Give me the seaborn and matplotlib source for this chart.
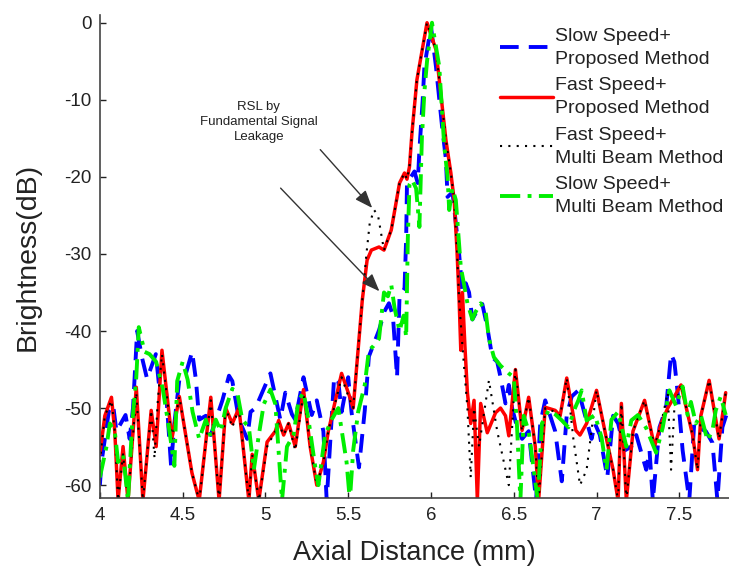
import numpy as np
import pandas as pd
import matplotlib
matplotlib.use("Agg")
import matplotlib.pyplot as plt
import seaborn as sns

# ---------------- data ----------------
series_names = ["Slow Speed+\nProposed Method", "Fast Speed+\nProposed Method",
                "Fast Speed+\nMulti Beam Method", "Slow Speed+\nMulti Beam Method"]

blue_x = [4.00, 4.01, 4.055, 4.08, 4.10, 4.155, 4.18, 4.20, 4.225, 4.255, 4.285, 4.338, 4.36, 4.40, 4.43,
          4.45, 4.48, 4.52, 4.557, 4.58, 4.60, 4.64, 4.67, 4.74, 4.78, 4.80, 4.84, 4.89, 4.91, 4.94, 4.96,
          5.03, 5.09, 5.12, 5.16, 5.18, 5.23, 5.28, 5.31, 5.35, 5.37, 5.415, 5.44, 5.46, 5.50, 5.52, 5.565,
          5.60, 5.625, 5.686, 5.72, 5.746, 5.77, 5.795, 5.81, 5.84, 5.85, 5.855, 5.90, 5.92, 5.93, 5.95,
          5.96, 6.00, 6.03, 6.067, 6.09, 6.10, 6.13, 6.17, 6.19, 6.21, 6.23, 6.25, 6.29, 6.31, 6.34, 6.37,
          6.40, 6.42, 6.45, 6.47, 6.49, 6.52, 6.55, 6.59, 6.635, 6.66, 6.69, 6.75, 6.79, 6.82, 6.85, 6.89,
          6.93, 6.97, 6.99, 7.02, 7.065, 7.10, 7.13, 7.17, 7.21, 7.24, 7.30, 7.32, 7.34, 7.38, 7.42, 7.45,
          7.47, 7.49, 7.52, 7.56, 7.59, 7.62, 7.66, 7.70, 7.73, 7.76, 7.79]
blue_y = [-60, -57, -50.3, -49.6, -53, -50.9, -54, -50, -40, -43.5, -46.2, -43, -47.6, -48, -57.5,
          -52, -46.3, -45.5, -42.7, -46.3, -51.5, -51, -53.5, -49, -45.8, -46.5, -51.5, -54, -50.5, -50, -49,
          -45.5, -51.5, -48, -50.8, -51.5, -46, -50.9, -49, -53, -62, -46, -46.5, -50.5, -46, -50.5, -57.7,
          -50.3, -43.3, -39.9, -37.4, -36.4, -38, -46, -35.5, -34.5, -28, -20.8, -19.3, -20.8, -16.5, -10,
          -5.7, -0.5, -5.7, -13.5, -17.7, -22.6, -22, -30, -35, -33.8, -35, -38.5, -36.9, -36.5, -39.5, -43.4,
          -44, -46, -49.4, -47, -50, -52.5, -54, -53, -62, -52, -49, -53, -59.5, -50.9, -48.5, -47.7,
          -50.9, -54, -52, -53.5, -59, -51, -52, -55.5, -55, -53.5, -58, -55.5, -62, -52.5, -50, -43,
          -44, -48, -55.5, -62, -52, -52.6, -53, -54.5, -62, -52.5, -50.5]

red_x = [4.00, 4.03, 4.07, 4.09, 4.11, 4.14, 4.17, 4.22, 4.26, 4.31, 4.34, 4.375, 4.435, 4.48, 4.556,
         4.60, 4.67, 4.72, 4.76, 4.80, 4.84, 4.90, 4.92, 4.96, 5.01, 5.06, 5.08, 5.11, 5.14, 5.18, 5.23,
         5.27, 5.31, 5.35, 5.38, 5.46, 5.51, 5.53, 5.585, 5.614, 5.64, 5.686, 5.716, 5.76, 5.81, 5.84,
         5.855, 5.87, 5.885, 5.915, 5.976, 6.03, 6.09, 6.12, 6.14, 6.157, 6.17, 6.18, 6.19, 6.205, 6.22,
         6.24, 6.26, 6.28, 6.30, 6.34, 6.39, 6.42, 6.45, 6.47, 6.51, 6.55, 6.59, 6.63, 6.65, 6.69, 6.75,
         6.78, 6.82, 6.875, 6.90, 6.94, 7.00, 7.06, 7.10, 7.13, 7.15, 7.18, 7.22, 7.29, 7.35, 7.39, 7.43,
         7.51, 7.58, 7.61, 7.63, 7.68, 7.74, 7.78]
red_y = [-56, -51, -48.6, -53, -62, -55, -62, -47.3, -62, -50.3, -55, -42.5, -54, -48.5, -58.4,
         -62, -48.6, -62, -50, -52, -50, -62, -56, -62, -54.4, -53, -51.6, -53.5, -52, -55, -47.6,
         -55, -60, -57, -53, -45.5, -48.6, -50, -36, -30.8, -29.5, -29.1, -29.5, -26.9, -20.8, -19.5,
         -20.3, -18.7, -14.3, -7.4, 0, -3.5, -15.2, -19.5, -23, -29.5, -36, -42.5, -35, -42, -48,
         -52, -49, -62, -49.4, -53.2, -50.6, -50, -51, -53.6, -45, -52.9, -48.6, -55, -62, -49.9, -50.3,
         -51, -46.1, -52.9, -53.5, -52, -47.7, -54, -58, -62, -49.4, -62, -53, -49, -55, -52, -50,
         -47, -53.5, -58, -51, -46.4, -54, -48]

black_x = [4.00, 4.03, 4.07, 4.09, 4.11, 4.14, 4.17, 4.22, 4.26, 4.31, 4.33, 4.35, 4.375, 4.435, 4.48,
           4.556, 4.60, 4.67, 4.72, 4.76, 4.80, 4.84, 4.90, 4.92, 4.96, 5.01, 5.06, 5.08, 5.11, 5.14, 5.18,
           5.23, 5.27, 5.31, 5.35, 5.38, 5.46, 5.51, 5.53, 5.585, 5.61, 5.63, 5.656, 5.68, 5.70, 5.716,
           5.76, 5.81, 5.84, 5.855, 5.87, 5.885, 5.915, 5.976, 6.03, 6.09, 6.12, 6.14, 6.157, 6.17, 6.19,
           6.22, 6.24, 6.26, 6.29, 6.35, 6.40, 6.44, 6.47, 6.51, 6.55, 6.59, 6.63, 6.65, 6.69, 6.75, 6.78,
           6.82, 6.86, 6.90, 6.94, 7.00, 7.06, 7.10, 7.13, 7.15, 7.18, 7.22, 7.29, 7.35, 7.39, 7.43, 7.45,
           7.47, 7.51, 7.58, 7.61, 7.63, 7.68, 7.74, 7.78]
black_y = [-57, -51, -49, -53, -62, -56, -62, -48, -62, -50.3, -56.5, -49, -43, -54, -48.5,
           -58.4, -62, -49, -62, -50, -52.5, -50, -62, -56, -62, -55, -53, -52, -53.5, -52, -55.5,
           -48, -55, -60, -57, -53, -46, -49, -50, -36, -30, -26, -24.3, -25, -27.5, -29.5,
           -26.9, -20.8, -19.5, -20.3, -18.7, -14.3, -7.4, 0, -3.5, -15.2, -19.5, -23, -29.5, -36, -42,
           -50, -59, -50, -55, -46.4, -53, -57, -60, -45, -53, -48.6, -55, -62, -50, -50.5, -51,
           -46.1, -54, -60, -58, -47.7, -54, -58, -62, -49.4, -62, -53, -49, -55, -52, -48, -58,
           -50, -47, -53.5, -58, -51, -46.4, -54, -48]

green_x = [4.00, 4.04, 4.06, 4.09, 4.11, 4.14, 4.17, 4.195, 4.22, 4.235, 4.27, 4.30, 4.34, 4.38, 4.42,
           4.45, 4.467, 4.50, 4.53, 4.56, 4.60, 4.64, 4.67, 4.70, 4.73, 4.76, 4.80, 4.83, 4.86, 4.90, 4.93,
           4.96, 4.99, 5.03, 5.06, 5.10, 5.13, 5.17, 5.20, 5.23, 5.26, 5.30, 5.32, 5.36, 5.40, 5.44, 5.49,
           5.51, 5.53, 5.56, 5.60, 5.625, 5.65, 5.686, 5.716, 5.74, 5.76, 5.78, 5.81, 5.835, 5.85, 5.86,
           5.87, 5.886, 5.91, 5.93, 5.945, 5.96, 5.976, 6.006, 6.05, 6.08, 6.10, 6.11, 6.13, 6.15, 6.18,
           6.20, 6.22, 6.25, 6.27, 6.30, 6.33, 6.35, 6.38, 6.42, 6.47, 6.50, 6.52, 6.54, 6.56, 6.59, 6.645,
           6.67, 6.71, 6.75, 6.79, 6.83, 6.87, 6.89, 6.91, 6.94, 6.99, 7.03, 7.06, 7.09, 7.13, 7.18, 7.21,
           7.25, 7.30, 7.33, 7.36, 7.40, 7.44, 7.48, 7.52, 7.55, 7.57, 7.60, 7.63, 7.67, 7.70, 7.72, 7.75,
           7.78]
green_y = [-59, -55, -52, -53, -57, -56, -62, -52, -46, -39.5, -42.7, -43, -44, -47.5, -53,
           -57.5, -46.5, -44, -46.3, -50.5, -54, -51.5, -53.8, -51.5, -53, -50, -47.5, -48, -51.5, -52.5, -58,
           -53.5, -49.5, -47.6, -49.5, -62, -55, -53.5, -49, -48, -51.5, -57.5, -60, -53.5, -51.5, -50, -57,
           -62, -55.5, -50.5, -47, -42.5, -42, -41, -35, -35.5, -34, -37, -40, -38, -40.8, -28,
           -21, -20.4, -21.5, -26.5, -15, -9, -5, 0, -5.7, -16, -20, -24.3, -21.5, -23, -31.7,
           -34, -36.4, -38.5, -37.5, -36.4, -37.5, -41, -43.4, -44.5, -45.5, -46, -52.5, -62, -51, -53, -62,
           -52, -50.3, -50.8, -51.6, -52.5, -50, -49, -47.7, -51.6, -50.9, -53.8, -58, -51.5, -50.5, -55, -51.6,
           -50.9, -52.6, -54.2, -55.8, -52.5, -47.7, -49.7, -47.2, -50.9, -49.2, -52, -50.9, -54.2, -52.9, -50.3, -48.5,
           -50.9]

x_ticks = [4, 4.5, 5, 5.5, 6, 6.5, 7, 7.5]
x_tick_labels = ["4", "4.5", "5", "5.5", "6", "6.5", "7", "7.5"]
y_ticks = [0, -10, -20, -30, -40, -50, -60]
y_tick_labels = ["0", "-10", "-20", "-30", "-40", "-50", "-60"]

# ---------------- style ----------------
sns.set_theme(style="white")
plt.rcParams["font.family"] = ["Liberation Sans", "DejaVu Sans"]

fig = plt.figure(figsize=(7.29, 5.78), dpi=100)
ax = fig.add_axes([0.137, 0.138, 0.863, 0.836])

styles = [
    dict(x=blue_x, y=blue_y, color="#0000FF", lw=2.8, ls=(0, (4.8, 2.6))),
    dict(x=red_x, y=red_y, color="#FF0000", lw=2.5, ls="-"),
    dict(x=black_x, y=black_y, color="#000000", lw=1.5, ls=(0, (1, 3))),
    dict(x=green_x, y=green_y, color="#00EE00", lw=2.8, ls=(0, (5.2, 1.9, 1, 1.9))),
]
handles = []
for name, s in zip(series_names, styles):
    df = pd.DataFrame({"x": s["x"], "y": s["y"]})
    sns.lineplot(data=df, x="x", y="y", ax=ax, color=s["color"], linewidth=s["lw"],
                 linestyle=s["ls"], estimator=None, sort=False, legend=False)
    handles.append(ax.lines[-1])

ax.set_xlim(4, 7.8)
ax.set_ylim(-61.7, 1.0)
ax.set_xticks(x_ticks)
ax.set_xticklabels(x_tick_labels, fontsize=13.5)
ax.set_yticks(y_ticks)
ax.set_yticklabels(y_tick_labels, fontsize=13.5)
ax.tick_params(direction="in", length=4, width=1, colors="#222222", left=True, bottom=True, pad=6)
for sp in ["top", "right"]:
    ax.spines[sp].set_visible(False)
for sp in ["left", "bottom"]:
    ax.spines[sp].set_color("#444444")
    ax.spines[sp].set_linewidth(1.2)

ax.set_xlabel("Axial Distance (mm)", fontsize=19.5, color="#222222", labelpad=12)
ax.set_ylabel("Brightness(dB)", fontsize=20.5, color="#222222", labelpad=17)

leg = ax.legend(handles, series_names, loc="upper left",
                bbox_to_anchor=(490 / 729, 1 - 18 / 578), bbox_transform=fig.transFigure,
                frameon=False, fontsize=14, handlelength=2.75, handletextpad=0.1,
                labelspacing=0.5, borderpad=0)
for t in leg.get_texts():
    t.set_color("#222222")
    t.set_linespacing(1.45)

# annotation
ax.text(4.96, -12.9, "RSL by\nFundamental Signal\nLeakage", ha="center", va="center",
        fontsize=9.5, color="#222222", linespacing=1.3)
arrow_kw = dict(arrowstyle="-|>,head_length=0.9,head_width=0.35", color="#333333", lw=1.0)
ax.annotate("", xy=(5.656, -24.3), xytext=(5.32, -16.2), arrowprops=arrow_kw)
ax.annotate("", xy=(5.70, -35.1), xytext=(5.08, -21.2), arrowprops=arrow_kw)

fig.savefig("out.png", dpi=100)
